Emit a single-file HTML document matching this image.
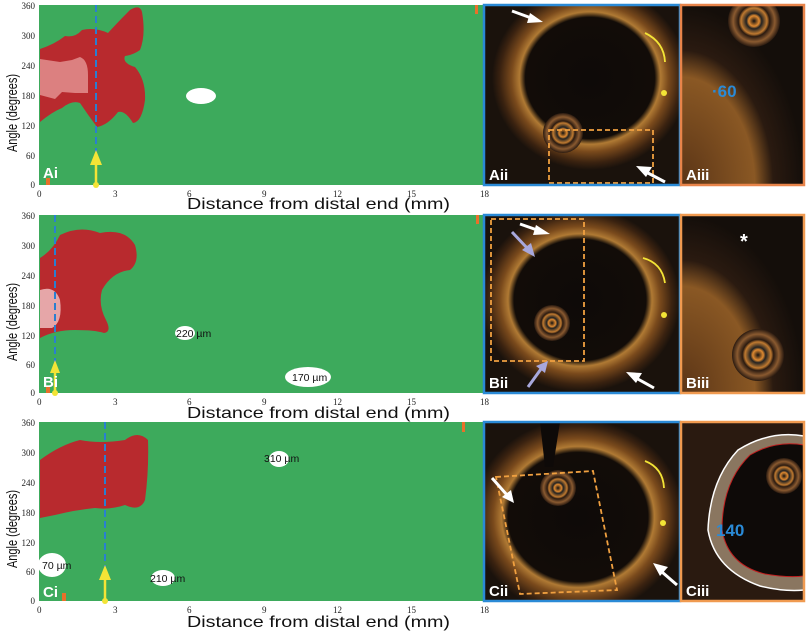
<!DOCTYPE html>
<html><head><meta charset="utf-8"><style>
html,body{margin:0;padding:0;background:#fff;}
svg{display:block;font-family:"Liberation Sans",sans-serif;}
.ax{font-family:"Liberation Serif",serif;font-size:9px;fill:#222;text-anchor:end;}
.ax2{font-family:"Liberation Serif",serif;font-size:9px;fill:#222;}
.pl{font-family:"Liberation Sans",sans-serif;font-weight:bold;font-size:15px;fill:#fff;}
.um{font-size:10.5px;fill:#111;}
</style></head><body>
<svg width="809" height="641" viewBox="0 0 809 641" xmlns="http://www.w3.org/2000/svg">
<defs>
<radialGradient id="ring" cx="50%" cy="50%" r="50%">
<stop offset="0" stop-color="#0e0a08"/>
<stop offset="0.66" stop-color="#120c08"/>
<stop offset="0.72" stop-color="#b07a34"/>
<stop offset="0.8" stop-color="#7a4a1c"/>
<stop offset="0.92" stop-color="#3a2210"/>
<stop offset="1" stop-color="#1a120c"/>
</radialGradient>
<radialGradient id="wall" cx="0%" cy="100%" r="100%">
<stop offset="0" stop-color="#5a3416"/>
<stop offset="0.6" stop-color="#8a5824"/>
<stop offset="0.75" stop-color="#2a1a10"/>
<stop offset="1" stop-color="#140e0a"/>
</radialGradient>
<radialGradient id="cath" cx="50%" cy="50%" r="50%">
<stop offset="0" stop-color="#111"/><stop offset="0.2" stop-color="#e08a30"/><stop offset="0.3" stop-color="#222"/><stop offset="0.5" stop-color="#c07a30"/><stop offset="0.6" stop-color="#2a1a10"/><stop offset="0.8" stop-color="#8a5a30"/><stop offset="1" stop-color="#2a1a10"/>
</radialGradient>
<clipPath id="cA2"><rect x="484" y="5" width="196" height="180"/></clipPath>
<clipPath id="cA3"><rect x="681" y="5" width="123" height="180"/></clipPath>
<clipPath id="cB2"><rect x="484" y="215" width="196" height="178"/></clipPath>
<clipPath id="cB3"><rect x="681" y="215" width="123" height="178"/></clipPath>
<clipPath id="cC2"><rect x="484" y="422" width="196" height="179"/></clipPath>
<clipPath id="cC3"><rect x="681" y="422" width="123" height="179"/></clipPath>
</defs>

<!-- ===== ROW A ===== -->
<g>
<rect x="39" y="5" width="445" height="180" fill="#3daa5c"/>
<path d="M40,49 Q55,44 65,36 Q75,38 82,30 Q95,27 108,33 Q118,22 130,10 Q140,4 142,12 Q146,35 140,50 Q133,55 125,56 Q122,63 135,67 Q146,80 145,100 Q142,122 133,123 Q125,110 118,112 Q108,125 97,127 Q88,115 80,103 Q72,100 62,108 Q52,112 40,122 Z" fill="#b82a2e"/>
<path d="M40,59 L60,62 L72,60 L80,57 Q88,60 88,75 L88,93 L75,93 L62,92 L55,99 L40,95 Z" fill="#dc8080"/>
<ellipse cx="201" cy="96" rx="15" ry="8" fill="#fff"/>
<line x1="96" y1="5" x2="96" y2="155" stroke="#2a7fd0" stroke-width="2" stroke-dasharray="7,4"/>
<line x1="96" y1="185" x2="96" y2="165" stroke="#f3e436" stroke-width="2.5"/>
<polygon points="96,150 90,165 102,165" fill="#f3e436"/><circle cx="96" cy="185" r="3" fill="#f3e436"/>
<rect x="46" y="178" width="4" height="7" fill="#e8702a"/><rect x="475" y="5" width="3" height="9" fill="#e8702a"/>
<text class="pl" x="43" y="178">Ai</text>
<rect x="484" y="5" width="196" height="180" fill="#1a120c"/>
<g clip-path="url(#cA2)">
<ellipse cx="590" cy="78" rx="98" ry="92" fill="url(#ring)"/>
<circle cx="563" cy="133" r="20" fill="url(#cath)"/>
<rect x="549" y="130" width="104" height="53" fill="none" stroke="#f0a040" stroke-width="1.8" stroke-dasharray="5,3"/>
<line x1="512" y1="11" x2="534" y2="19" stroke="#fff" stroke-width="3"/><polygon points="543,22 530,13 527,23" fill="#fff"/>
<line x1="665" y1="182" x2="646" y2="172" stroke="#fff" stroke-width="3"/><polygon points="636,166 652,167 646,177" fill="#fff"/>
<circle cx="664" cy="93" r="3" fill="#f3e436"/>
<path d="M665,62 Q664,42 645,33" fill="none" stroke="#f3e436" stroke-width="1.8"/>
</g>
<rect x="484" y="5" width="196" height="180" fill="none" stroke="#2a8ad6" stroke-width="2.5"/>
<text class="pl" x="489" y="180">Aii</text>
<rect x="681" y="5" width="123" height="180" fill="url(#wall)"/>
<g clip-path="url(#cA3)"><circle cx="754" cy="21" r="26" fill="url(#cath)"/></g>
<rect x="681" y="5" width="123" height="180" fill="none" stroke="#e8844a" stroke-width="2.5"/>
<text x="712" y="97" font-size="17" fill="#2a8ad6" font-weight="bold">·60</text>
<text class="pl" x="686" y="180">Aiii</text>
</g>

<g class="ax">
<text x="35" y="9">360</text><text x="35" y="39">300</text><text x="35" y="69">240</text><text x="35" y="99">180</text><text x="35" y="129">120</text><text x="35" y="159">60</text><text x="35" y="188">0</text>
</g>
<g class="ax2"><text x="37" y="197">0</text><text x="113" y="197">3</text><text x="187" y="197">6</text><text x="262" y="197">9</text><text x="333" y="197">12</text><text x="407" y="197">15</text><text x="480" y="197">18</text></g>
<text x="187" y="209" font-size="16" fill="#111" textLength="263" lengthAdjust="spacingAndGlyphs">Distance from distal end (mm)</text>
<text x="0" y="0" font-size="15" fill="#111" transform="translate(17,152) rotate(-90)" textLength="78" lengthAdjust="spacingAndGlyphs">Angle (degrees)</text>

<!-- ===== ROW B ===== -->
<g>
<rect x="39" y="215" width="445" height="178" fill="#3daa5c"/>
<path d="M40,258 Q53,250 60,235 Q80,225 100,233 Q125,228 135,245 Q140,262 130,270 Q112,272 102,290 Q98,305 106,320 Q112,332 104,333 Q95,330 75,330 Q55,330 40,338 Z" fill="#b82a2e"/>
<path d="M40,290 Q55,285 60,300 Q63,322 52,328 L40,328 Z" fill="#e6a6a8"/>
<ellipse cx="185" cy="333" rx="10" ry="7" fill="#fff"/><text class="um" x="176" y="337">220 µm</text>
<ellipse cx="308" cy="377" rx="23" ry="10" fill="#fff"/><text class="um" x="292" y="381">170 µm</text>
<line x1="55" y1="215" x2="55" y2="365" stroke="#2a7fd0" stroke-width="2" stroke-dasharray="7,4"/>
<line x1="55" y1="393" x2="55" y2="372" stroke="#f3e436" stroke-width="2.5"/>
<polygon points="55,360 50,373 60,373" fill="#f3e436"/><circle cx="55" cy="393" r="3" fill="#f3e436"/>
<rect x="46" y="386" width="4" height="7" fill="#e8702a"/><rect x="476" y="215" width="3" height="9" fill="#e8702a"/>
<text class="pl" x="43" y="387">Bi</text>
<rect x="484" y="215" width="196" height="178" fill="#1a120c"/>
<g clip-path="url(#cB2)">
<ellipse cx="580" cy="300" rx="100" ry="92" fill="url(#ring)"/>
<circle cx="552" cy="323" r="18" fill="url(#cath)"/>
<rect x="491" y="219" width="93" height="142" fill="none" stroke="#f0a040" stroke-width="1.8" stroke-dasharray="5,3"/>
<line x1="520" y1="224" x2="540" y2="231" stroke="#fff" stroke-width="3"/><polygon points="550,234 536,225 533,235" fill="#fff"/>
<line x1="654" y1="388" x2="636" y2="378" stroke="#fff" stroke-width="3"/><polygon points="626,372 642,373 636,383" fill="#fff"/>
<line x1="512" y1="232" x2="528" y2="249" stroke="#a8a8dc" stroke-width="3"/><polygon points="535,257 522,250 531,243" fill="#a8a8dc"/>
<line x1="528" y1="387" x2="541" y2="369" stroke="#a8a8dc" stroke-width="3"/><polygon points="548,361 536,366 545,373" fill="#a8a8dc"/>
<circle cx="664" cy="315" r="3" fill="#f3e436"/>
<path d="M665,283 Q662,263 643,258" fill="none" stroke="#f3e436" stroke-width="1.8"/>
</g>
<rect x="484" y="215" width="196" height="178" fill="none" stroke="#2a8ad6" stroke-width="2.5"/>
<text class="pl" x="489" y="388">Bii</text>
<rect x="681" y="215" width="123" height="178" fill="url(#wall)"/>
<g clip-path="url(#cB3)"><circle cx="758" cy="355" r="26" fill="url(#cath)"/></g>
<rect x="681" y="215" width="123" height="178" fill="none" stroke="#f09a50" stroke-width="2.5"/>
<text x="740" y="248" font-size="20" fill="#fff" font-weight="bold">*</text>
<text class="pl" x="686" y="388">Biii</text>
</g>
<g class="ax">
<text x="35" y="219">360</text><text x="35" y="249">300</text><text x="35" y="279">240</text><text x="35" y="309">180</text><text x="35" y="339">120</text><text x="35" y="368">60</text><text x="35" y="396">0</text>
</g>
<g class="ax2"><text x="37" y="405">0</text><text x="113" y="405">3</text><text x="187" y="405">6</text><text x="262" y="405">9</text><text x="333" y="405">12</text><text x="407" y="405">15</text><text x="480" y="405">18</text></g>
<text x="187" y="418" font-size="16" fill="#111" textLength="263" lengthAdjust="spacingAndGlyphs">Distance from distal end (mm)</text>
<text x="0" y="0" font-size="15" fill="#111" transform="translate(17,361) rotate(-90)" textLength="78" lengthAdjust="spacingAndGlyphs">Angle (degrees)</text>

<!-- ===== ROW C ===== -->
<g>
<rect x="39" y="422" width="445" height="179" fill="#3daa5c"/>
<path d="M40,460 Q60,445 80,440 Q100,444 125,440 Q138,430 148,440 Q149,470 145,500 Q140,512 125,505 Q110,510 95,508 Q75,510 55,515 L40,518 Z" fill="#b82a2e"/>
<ellipse cx="279" cy="459" rx="10" ry="8" fill="#fff"/><text class="um" x="264" y="462">310 µm</text>
<ellipse cx="52" cy="565" rx="14" ry="12" fill="#fff"/><text class="um" x="42" y="569">70 µm</text>
<ellipse cx="163" cy="578" rx="12" ry="8" fill="#fff"/><text class="um" x="150" y="582">210 µm</text>
<line x1="105" y1="422" x2="105" y2="570" stroke="#2a7fd0" stroke-width="2" stroke-dasharray="7,4"/>
<line x1="105" y1="601" x2="105" y2="580" stroke="#f3e436" stroke-width="2.5"/>
<polygon points="105,565 99,580 111,580" fill="#f3e436"/><circle cx="105" cy="601" r="3" fill="#f3e436"/>
<rect x="62" y="593" width="4" height="8" fill="#e8702a"/><rect x="462" y="422" width="3" height="10" fill="#e8702a"/>
<text class="pl" x="43" y="597">Ci</text>
<rect x="484" y="422" width="196" height="179" fill="#1a120c"/>
<g clip-path="url(#cC2)">
<ellipse cx="578" cy="517" rx="106" ry="98" fill="url(#ring)"/>
<polygon points="540,422 560,422 553,467 545,467" fill="#0e0a08"/>
<circle cx="558" cy="488" r="18" fill="url(#cath)"/>
<polygon points="496,477 593,471 617,590 520,594" fill="none" stroke="#f0a040" stroke-width="1.8" stroke-dasharray="5,3"/>
<line x1="492" y1="478" x2="507" y2="495" stroke="#fff" stroke-width="3"/><polygon points="514,503 502,497 511,490" fill="#fff"/>
<line x1="677" y1="585" x2="662" y2="572" stroke="#fff" stroke-width="3"/><polygon points="653,563 668,567 660,576" fill="#fff"/>
<circle cx="663" cy="523" r="3" fill="#f3e436"/>
<path d="M664,488 Q663,468 645,461" fill="none" stroke="#f3e436" stroke-width="1.8"/>
</g>
<rect x="484" y="422" width="196" height="179" fill="none" stroke="#2a8ad6" stroke-width="2.5"/>
<text class="pl" x="489" y="596">Cii</text>
<rect x="681" y="422" width="123" height="179" fill="#2a1a10"/>
<g clip-path="url(#cC3)">
<path d="M804,436 Q770,430 738,450 Q710,480 708,530 Q715,570 760,586 Q785,592 804,590 Z" fill="#8a7660" stroke="#fff" stroke-width="1.5"/>
<path d="M804,445 Q775,440 750,455 Q722,482 722,530 Q728,565 765,574 Q788,578 804,576 Z" fill="#0e0a08" stroke="#c02020" stroke-width="1"/>
<circle cx="784" cy="476" r="18" fill="url(#cath)"/>
</g>
<rect x="681" y="422" width="123" height="179" fill="none" stroke="#f09a50" stroke-width="2.5"/>
<text x="716" y="536" font-size="17" fill="#2a8ad6" font-weight="bold">140</text>
<text class="pl" x="686" y="596">Ciii</text>
</g>
<g class="ax">
<text x="35" y="426">360</text><text x="35" y="456">300</text><text x="35" y="486">240</text><text x="35" y="516">180</text><text x="35" y="546">120</text><text x="35" y="575">60</text><text x="35" y="604">0</text>
</g>
<g class="ax2"><text x="37" y="613">0</text><text x="113" y="613">3</text><text x="187" y="613">6</text><text x="262" y="613">9</text><text x="333" y="613">12</text><text x="407" y="613">15</text><text x="480" y="613">18</text></g>
<text x="187" y="627" font-size="16" fill="#111" textLength="263" lengthAdjust="spacingAndGlyphs">Distance from distal end (mm)</text>
<text x="0" y="0" font-size="15" fill="#111" transform="translate(17,568) rotate(-90)" textLength="78" lengthAdjust="spacingAndGlyphs">Angle (degrees)</text>
</svg>
</body></html>
